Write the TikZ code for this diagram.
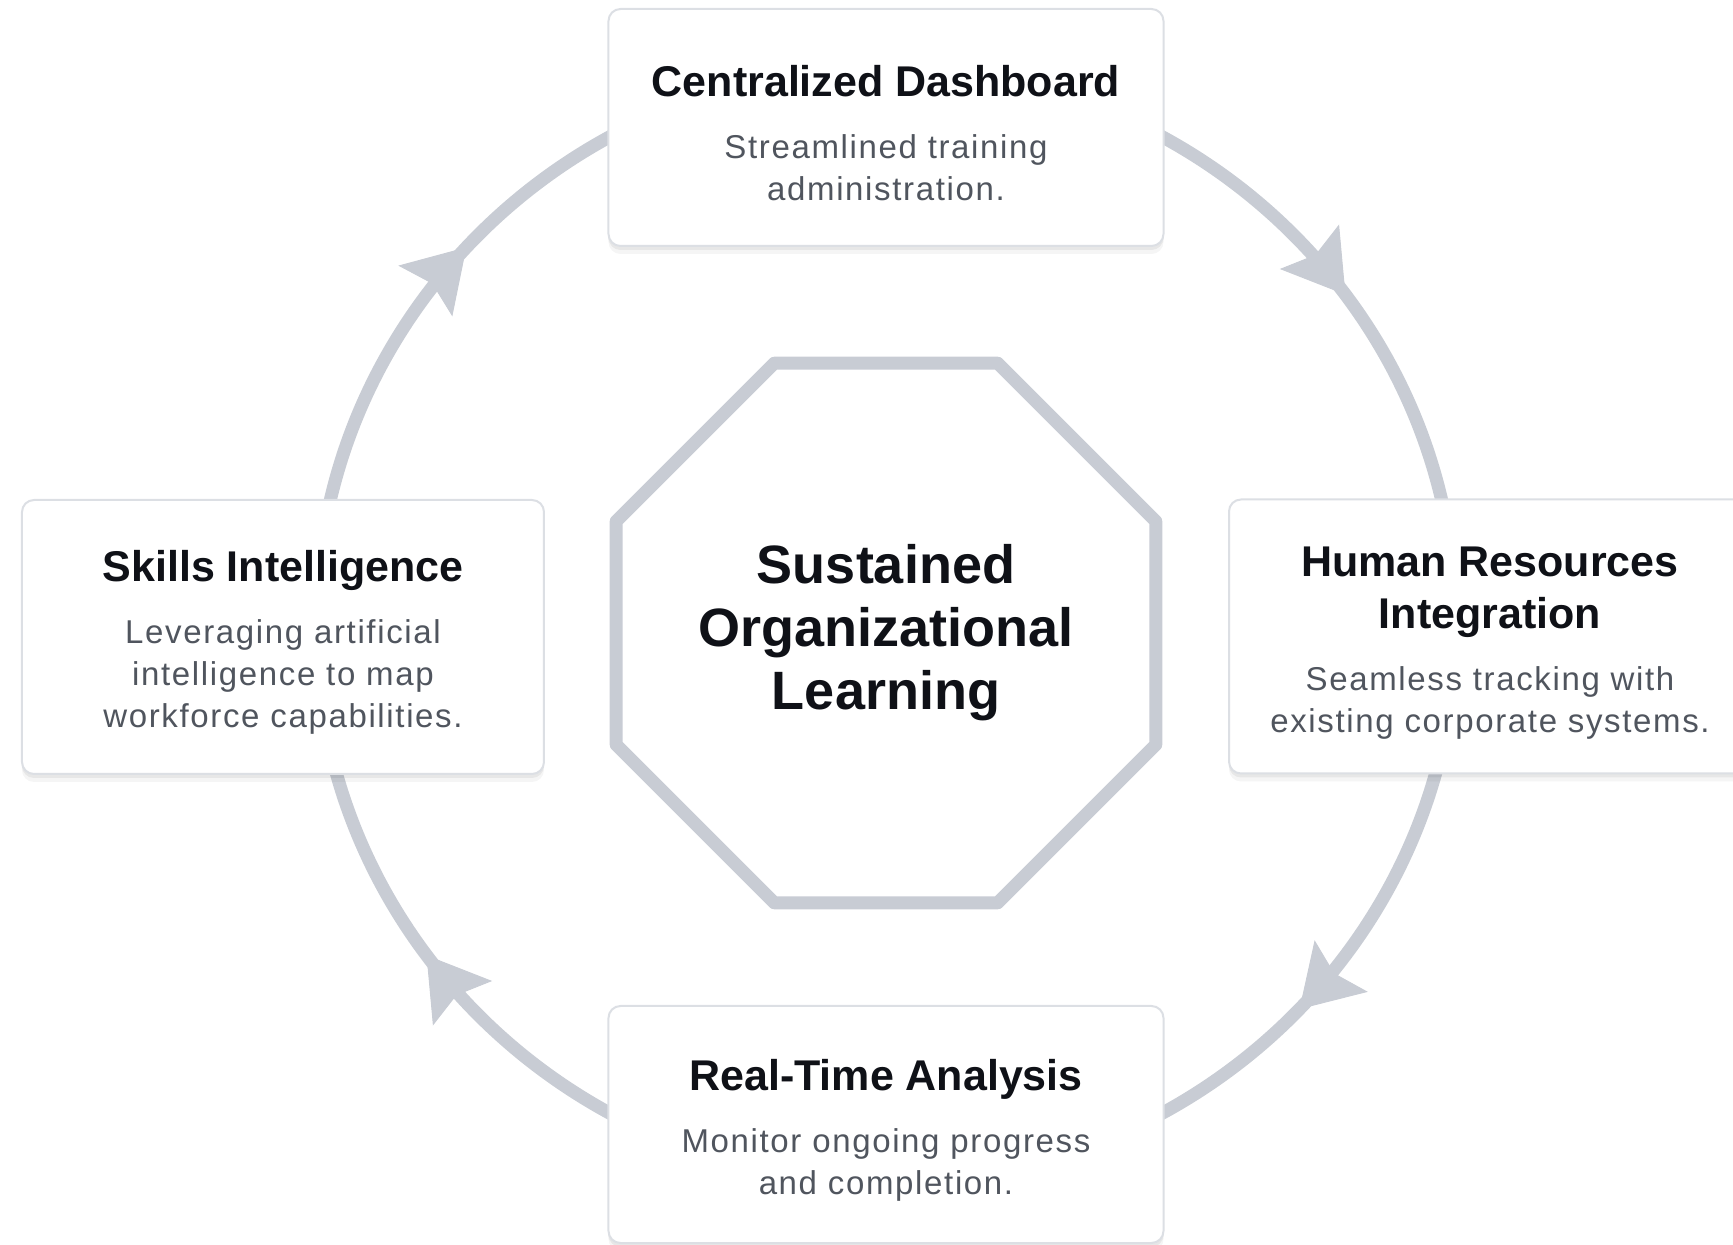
\documentclass[tikz,border=0pt]{standalone}
\usepackage{fontspec}
\setmainfont{Liberation Sans}
\newfontfamily\descfont[LetterSpace=5]{Liberation Sans}
\usepackage{xcolor}
\usetikzlibrary{arrows.meta}
\usetikzlibrary{shadows}
\usetikzlibrary{decorations.markings}

\definecolor{ringgray}{HTML}{C8CCD4}
\definecolor{cardline}{HTML}{DCDFE4}
\definecolor{titleink}{HTML}{0F1117}
\definecolor{descink}{HTML}{50555E}

\tikzset{
	card/.style={draw=cardline, line width=1pt, fill=white, rounded corners=6pt,
		align=center, inner sep=0pt, text=descink,
		font=\descfont\fontsize{16.5}{21}\selectfont,
		drop shadow={shadow xshift=0pt, shadow yshift=-4pt, opacity=0.04, fill=black},
		drop shadow={shadow xshift=0pt, shadow yshift=-2pt, opacity=0.06, fill=black}},
	ring/.style={draw=ringgray, line width=6.5pt},
	tipmark/.style={postaction={decorate, decoration={markings,
		mark=at position #1 with {\arrow[ringgray]{Stealth[length=30pt, width=37pt, inset=5pt, line width=0.5pt]}}}}}
}
\newcommand{\cardtitle}[1]{{\rmfamily\bfseries\fontsize{21.5}{26}\selectfont\color{titleink}#1}}
\newcommand{\toppad}{\rule{0pt}{21pt}}

\begin{document}
\begin{tikzpicture}[x=0.5pt, y=0.5pt]
	\useasboundingbox (-886,-620) rectangle (847,625);
	\coordinate (ctr) at (0,0);
	\coordinate (hub) at (0,-8);

	%% Cycle ring
	\draw[ring, tipmark=0.6] (ctr) ++(90:570 and 558) arc[start angle=90, end angle=0, x radius=570, y radius=558];
	\draw[ring, tipmark=0.48] (ctr) ++(0:570 and 558) arc[start angle=0, end angle=-90, x radius=570, y radius=558];
	\draw[ring, tipmark=0.6] (ctr) ++(270:570 and 558) arc[start angle=270, end angle=180, x radius=570, y radius=558];
	\draw[ring, tipmark=0.47] (ctr) ++(180:570 and 558) arc[start angle=180, end angle=90, x radius=570, y radius=558];

	%% Core
	\draw[ring, fill=white, line join=round, shift={(hub)}] (22.5:292) -- (67.5:292) -- (112.5:292) -- (157.5:292)
		-- (202.5:292) -- (247.5:292) -- (292.5:292) -- (337.5:292) -- cycle;
	\node[align=center, text=titleink, font=\bfseries\fontsize{27}{31.5}\selectfont] (core) at (hub)
		{Sustained\\Organizational\\Learning};

	%% Cards
	\node[card, minimum width=277.5pt, minimum height=118.5pt] (dash) at (0,497.5)
		{\toppad\cardtitle{Centralized Dashboard}\\[10pt]Streamlined training\\administration.};
	%
	\node[card, minimum width=261pt, minimum height=137pt] (hr) at (604,-11.5)
		{\toppad\cardtitle{Human Resources}\\[5pt]\cardtitle{Integration}\\[10pt]Seamless tracking with\\existing corporate systems.};
	%
	\node[card, minimum width=277.5pt, minimum height=118.5pt] (rta) at (0,-499.5)
		{\toppad\cardtitle{Real-Time Analysis}\\[10pt]Monitor ongoing progress\\and completion.};
	%
	\node[card, minimum width=261pt, minimum height=137pt] (skills) at (-603,-12)
		{\toppad\cardtitle{Skills Intelligence}\\[10pt]Leveraging artificial\\intelligence to map\\workforce capabilities.};

\end{tikzpicture}
\end{document}
